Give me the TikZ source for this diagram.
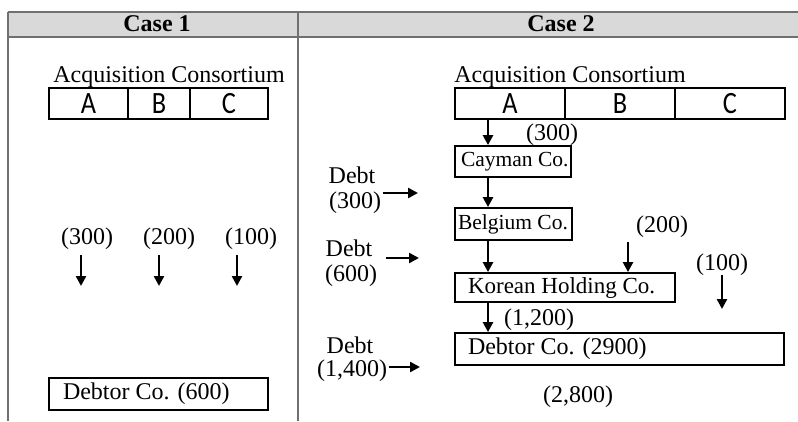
\documentclass[tikz,border=0pt]{standalone}
\usepackage{fontspec}
\setmainfont{Liberation Serif}
\newfontfamily\abcfont[FakeStretch=0.85]{Carlito}
\usetikzlibrary{arrows.meta}
\definecolor{hdrgray}{HTML}{D9D9D9}
\definecolor{rulegray}{HTML}{707070}
\begin{document}
\begin{tikzpicture}[x=1pt,y=-1pt,
  every node/.style={inner sep=0pt,font=\fontsize{24}{26}\selectfont},
  lbl/.style={anchor=base},
  cell/.style={draw,line width=1.8pt,minimum height=31pt,font=\fontsize{31}{31}\abcfont},
  bx/.style={draw,line width=1.8pt,inner ysep=0pt},
  arr/.style={line width=2.4pt,-{Triangle[length=10pt,width=10pt]}},
  rule/.style={draw=rulegray,line width=1.2pt}]
\useasboundingbox (0,0) rectangle (798,421);
% table
\fill[hdrgray] (8,12) rectangle (798,37);
\draw[rule] (8,12) -- (798,12);
\draw[rule] (8,37) -- (798,37);
\draw[rule] (8,12) -- (8,421);
\draw[rule] (298,12) -- (298,421);
\node[lbl,font=\fontsize{24}{26}\selectfont\bfseries] (h1) at (157,31) {Case 1};
\node[lbl,font=\fontsize{24}{26}\selectfont\bfseries] (h2) at (561,31) {Case 2};
% Case 1
\node[lbl] (ac1) at (169,82) {Acquisition Consortium};
\node[cell,minimum width=79pt] (a1) at (88.5,103.5) {A};
\node[cell,minimum width=62pt] (b1) at (159,103.5) {B};
\node[cell,minimum width=78pt] (c1) at (229,103.5) {C};
\node[lbl] (l300a) at (87,244) {(300)};
\node[lbl] (l200a) at (169,244) {(200)};
\node[lbl] (l100a) at (251,244) {(100)};
\coordinate (s1) at (81,255); \coordinate (e1) at (81,286);
\coordinate (s2) at (159,255); \coordinate (e2) at (159,286);
\coordinate (s3) at (237,255); \coordinate (e3) at (237,286);
\draw[arr] (s1) -- (e1);
\draw[arr] (s2) -- (e2);
\draw[arr] (s3) -- (e3);
\node[bx,inner xsep=14pt,minimum height=32pt] (d1) at (158.5,394) {\makebox[191pt][l]{Debtor Co. (600)}};
% Case 2
\node[lbl] (ac2) at (570,82) {Acquisition Consortium};
\node[cell,minimum width=110pt] (a2) at (510,103.5) {A};
\node[cell,minimum width=110pt] (b2) at (620,103.5) {B};
\node[cell,minimum width=110pt] (c2) at (730,103.5) {C};
\node[bx,inner xsep=6pt,minimum height=31pt,font=\fontsize{21.5}{24}\selectfont] (cay) at (513,161.5) {\makebox[104pt][l]{Cayman Co.}};
\node[bx,inner xsep=3pt,minimum height=32pt,font=\fontsize{21.5}{24}\selectfont] (bel) at (513.5,224) {\makebox[111pt][l]{Belgium Co.}};
\node[bx,inner xsep=13pt,minimum height=29pt,font=\fontsize{23}{25}\selectfont] (kor) at (565,287.5) {\makebox[194pt][l]{Korean Holding Co.}};
\node[bx,inner xsep=13pt,minimum height=32pt] (d2) at (619.5,349) {\makebox[303pt][l]{Debtor Co. (2900)}};
\coordinate (p1) at (488,0);
\draw[arr] (p1 |- a2.south) -- (p1 |- cay.north);
\draw[arr] (p1 |- cay.south) -- (p1 |- bel.north);
\draw[arr] (p1 |- bel.south) -- (p1 |- kor.north);
\draw[arr] (p1 |- kor.south) -- (p1 |- d2.north);
\node[lbl] (l300b) at (552,140) {(300)};
\node[lbl] (l200b) at (662,232) {(200)};
\coordinate (s200) at (628,242);
\draw[arr] (s200) -- (s200 |- kor.north);
\node[lbl] (l100b) at (722,270) {(100)};
\coordinate (s100) at (722,275); \coordinate (e100) at (722,309);
\draw[arr] (s100) -- (e100);
\node[lbl] (l1200) at (539,325) {(1,200)};
\node[lbl] (l2800) at (578,402) {(2,800)};
% Debt labels
\node[lbl] (dt1) at (352,183) {Debt};
\node[lbl] (dv1) at (355,208) {(300)};
\coordinate (ds1) at (383,193); \coordinate (de1) at (418,193);
\draw[arr] (ds1) -- (de1);
\node[lbl] (dt2) at (349,256) {Debt};
\node[lbl] (dv2) at (351,281) {(600)};
\coordinate (ds2) at (386,258); \coordinate (de2) at (419,258);
\draw[arr] (ds2) -- (de2);
\node[lbl] (dt3) at (350,353) {Debt};
\node[lbl] (dv3) at (352,376) {(1,400)};
\coordinate (ds3) at (389,367); \coordinate (de3) at (420,367);
\draw[arr] (ds3) -- (de3);
\end{tikzpicture}
\end{document}
